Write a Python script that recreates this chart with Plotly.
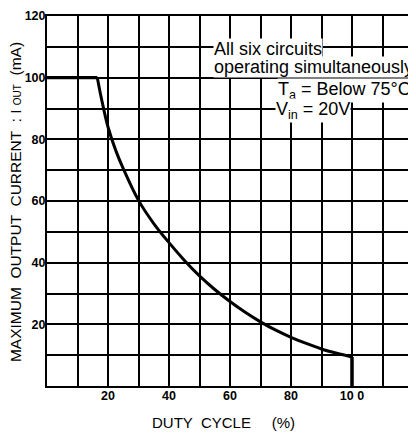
import plotly.graph_objects as go

# ---- data ----
flat_duty = [0, 16.5]
flat_current = [100, 100]

curve_duty = [16.5, 18, 20, 22.5, 25, 30, 35, 40, 45, 50, 55, 60, 65, 70, 75, 80, 85, 90, 95, 100]
curve_current = [100, 92.5, 84, 76.5, 70.5, 60.2, 52.7, 46.5, 40.8, 35.7, 31.3, 27.4, 23.9, 20.8,
                 18.1, 15.8, 13.8, 12.0, 10.6, 9.4]

drop_duty = [100, 100]
drop_current = [9.4, 0]

grid_vals = [10, 20, 30, 40, 50, 60, 70, 80, 90, 100, 110, 120]
x_tick_text = ["", "20", "", "40", "", "60", "", "80", "", "10 0", "", ""]
y_tick_text = ["", "20", "", "40", "", "60", "", "80", "", "100", "", "120"]

note_lines = ["All six circuits", "operating simultaneously",
              "T<sub>a</sub> = Below 75°C", "V<sub>in</sub> = 20V"]
note_x = [54.3, 54.3, 75.3, 74.6]
note_y = [109.3, 103.3, 95.7, 89.2]

x_title = "DUTY  CYCLE     (%)"
y_title = "MAXIMUM  OUTPUT  CURRENT  : I <span style='font-size:10px'>OUT</span>  (mA)"

font_family = "Liberation Sans, Arial, sans-serif"

fig = go.Figure()
fig.add_trace(go.Scatter(x=flat_duty, y=flat_current, mode="lines",
                         line=dict(color="black", width=3.2),
                         showlegend=False, hoverinfo="skip"))
fig.add_trace(go.Scatter(x=curve_duty, y=curve_current, mode="lines",
                         line=dict(color="black", width=3, shape="spline", smoothing=1.0),
                         showlegend=False, hoverinfo="skip"))
fig.add_trace(go.Scatter(x=drop_duty, y=drop_current, mode="lines",
                         line=dict(color="black", width=3.5),
                         showlegend=False, hoverinfo="skip"))

for txt, xx, yy in zip(note_lines, note_x, note_y):
    fig.add_annotation(x=xx, y=yy, xref="x", yref="y", text=txt, showarrow=False,
                       xanchor="left", yanchor="middle", bgcolor="white", borderpad=0,
                       font=dict(family=font_family, size=18, color="black"))

# axis titles as paper annotations
fig.add_annotation(x=0.4836, y=-0.098, xref="paper", yref="paper", text=x_title,
                   showarrow=False, xanchor="center", yanchor="middle",
                   font=dict(family=font_family, size=15, color="black"))
fig.add_annotation(x=-0.0874, y=0.497, xref="paper", yref="paper", text=y_title,
                   textangle=-90, showarrow=False, xanchor="center", yanchor="middle",
                   font=dict(family=font_family, size=15.5, color="black"))

axis_common = dict(
    range=[0, 120], tickvals=grid_vals, showgrid=True, gridcolor="black", gridwidth=1.8,
    showline=True, linecolor="black", linewidth=2, mirror=True, zeroline=False,
    ticks="", tickfont=dict(family=font_family, size=12.5, color="black", weight="bold"),
    fixedrange=True, automargin=False,
)

# the page body adds an 8px offset, so the figure is sized to fit the window
fig.update_layout(
    width=408, height=425,
    margin=dict(l=39, r=3, t=8, b=47),
    paper_bgcolor="white", plot_bgcolor="white",
    font=dict(family=font_family, color="black"),
    xaxis=dict(**axis_common, ticktext=x_tick_text, ticklabelstandoff=-3),
    yaxis=dict(**axis_common, ticktext=y_tick_text, ticklabelstandoff=-3),
)

fig.write_html("out.html")
